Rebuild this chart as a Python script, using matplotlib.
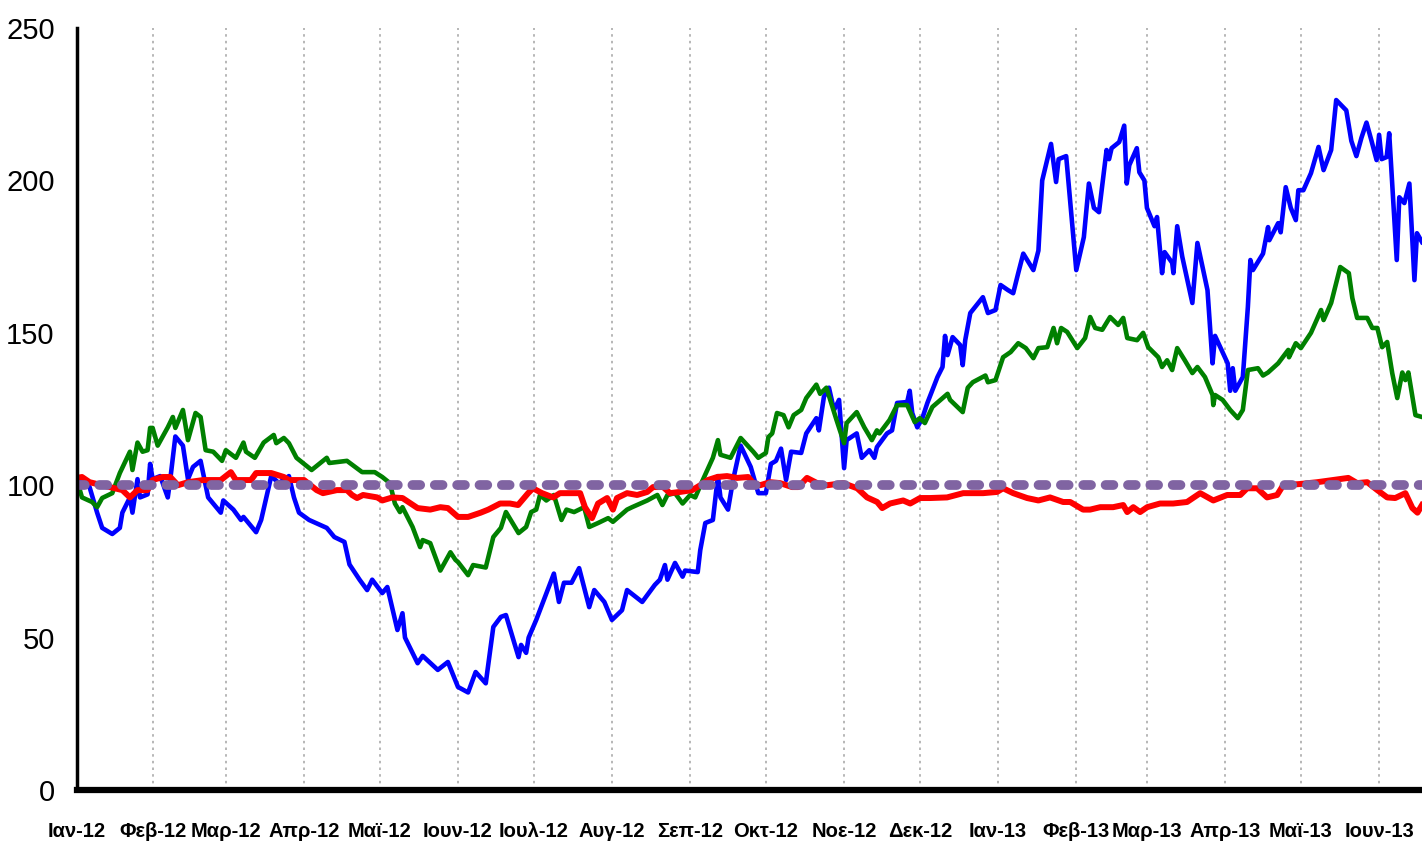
import matplotlib
matplotlib.use('Agg')
from matplotlib import pyplot as plt
import pandas as pd

plt.rcParams['font.family'] = ['Liberation Sans', 'DejaVu Sans']

# x values are days counted from the first trading day (2 Jan 2012)
start = pd.Timestamp('2012-01-02')
end_day = 533

blue_day = [0, 5, 8, 10, 14, 17, 18, 21, 22, 24, 25, 28, 29, 30, 33, 36, 37, 39, 42, 44, 46, 49, 50, 52,
            57, 58, 62, 65, 66, 71, 73, 77, 80, 84, 86, 88, 92, 99, 102, 106, 108, 112, 115, 117, 121, 123,
            127, 129, 130, 133, 135, 137, 143, 147, 151, 155, 158, 162, 165, 168, 170, 175, 176, 178, 179,
            182, 185, 189, 191, 193, 196, 199, 203, 205, 209, 212, 216, 218, 224, 229, 231, 233, 234, 237,
            240, 241, 246, 247, 249, 252, 254, 255, 258, 260, 263, 267, 270, 273, 275, 277, 279, 281, 283,
            287, 289, 293, 294, 296, 298, 300, 302, 304, 305, 309, 311, 314, 316, 317, 321, 323, 325, 329,
            330, 331, 333, 335, 337, 341, 343, 344, 345, 347, 350, 351, 352, 354, 359, 361, 364, 366, 369,
            371, 373, 375, 379, 381, 382.5, 386, 388, 389, 392, 396, 399, 401, 403, 405, 408, 409, 410, 413,
            415, 416, 417, 420, 421, 423, 424, 427, 428, 430, 431, 434, 434.5, 436, 438, 442, 444, 448, 450,
            451, 456, 457, 458, 459, 462, 464, 465, 466, 470, 472, 472.5, 476, 477, 479, 481, 483, 484, 486,
            489, 492, 494, 497, 499, 503, 505, 507, 509, 511, 513, 515, 516, 517, 519, 520, 523, 524, 526,
            528, 530, 531, 533]
blue_val = [101.7, 99.4, 91, 86, 84, 86, 91, 96, 91, 102, 96, 97, 107, 102, 103, 96, 102, 116, 113, 102,
            106, 108, 104, 96, 91, 95, 92, 88.6, 89.6, 84.6, 88.6, 103, 100.7, 103, 96, 91, 88.6, 86, 83,
            81.4, 74, 69, 65.6, 69, 64.6, 66.6, 52.5, 58, 50, 45, 41.6, 44, 39.4, 42, 33.8, 32, 38.7, 35,
            53.5, 56.8, 57.4, 43.6, 47.6, 45, 50, 55.8, 62.3, 71, 61.7, 68, 68, 72.8, 60, 65.6, 61.7, 55.8,
            59, 65.6, 61.7, 67.3, 69, 73.8, 69, 74.5, 70, 72, 71.5, 78.7, 87.6, 88.6, 103, 96, 92, 101.7,
            113, 106, 97.4, 97.4, 107, 108, 112, 101.7, 111, 110.6, 117, 122, 118, 129, 132, 124.7, 128,
            105.6, 114.8, 117, 109, 111.5, 109, 112.5, 117, 118, 127, 127.3, 131, 123.7, 119, 122, 127,
            135.5, 138.8, 149, 142.7, 148.6, 146, 139.4, 147.6, 156.5, 161.7, 156.5, 157.5, 165.7, 164,
            163, 169.6, 176, 170.6, 177, 200, 212, 199.5, 207, 208, 170.6, 181.4, 199, 191, 189.6, 210,
            207, 210.6, 212.6, 218, 199, 205, 210.6, 202.7, 200, 191, 185, 188, 169.6, 176.5, 173, 169.6,
            185, 175, 159.8, 179.5, 164, 140, 149, 140, 131, 138.4, 131, 135.5, 158.5, 173.9, 170.6, 176,
            184.7, 180.4, 186, 183, 197.8, 191, 187, 196.8, 196.8, 202.4, 211, 203.4, 210, 226.4, 223, 213,
            208, 214, 219, 213, 206.7, 215, 207, 207.7, 215.5, 173.9, 194.5, 192.6, 199, 167.3, 182.7,
            179.8]

green_day = [0, 2, 6, 8, 10, 14, 17, 21, 22, 24, 26, 28, 29, 30, 32, 36, 38, 39, 42, 44, 47, 49, 51, 54,
             57.5, 59, 63, 66, 67, 70.5, 74, 78, 79, 82, 84, 87, 93, 99, 100, 107, 113, 118, 121, 124, 126,
             128, 129, 133, 136, 137, 140, 144, 148, 150, 151, 155, 157, 162, 165, 168, 170, 175, 178, 180,
             182, 183.5, 186, 189, 192, 194, 197, 201, 203, 206.5, 210.5, 212.4, 218, 220, 226, 230, 232,
             234, 237, 240, 243, 245, 248, 252, 254, 255, 259, 263, 268, 270, 273, 274, 275.5, 277.4, 280,
             282, 284, 287, 289, 293, 294.5, 297, 301, 304, 305, 309, 312, 315, 317, 318, 322, 325, 329,
             332, 334, 336, 339, 345, 346, 351, 353, 355, 360, 361, 364, 367, 370, 373, 376, 379, 381,
             384.5, 387, 388.4, 390, 392.4, 396.4, 399.5, 401.5, 403.5, 406.3, 409.4, 412.6, 414.6, 416.2,
             420.1, 422.5, 424.5, 428.5, 430, 432, 434, 436, 439, 442, 444, 447, 450, 450.3, 451, 454, 457,
             460, 462, 464, 468, 470, 472, 476, 480, 480.3, 483, 485, 489, 493, 494, 497, 500.6, 504, 505.4,
             507.3, 511.3, 513.3, 515.3, 517.2, 519.2, 521.2, 523.2, 525.2, 526.4, 527.6, 530.4, 533]
green_val = [101.7, 96, 94.5, 92.8, 95.8, 97.4, 104, 111, 105, 114, 111, 111.5, 118.8, 118.8, 113, 119,
             122.4, 118.8, 124.7, 114.8, 123.7, 122.4, 111.5, 111, 108, 111.5, 109, 114, 111, 109, 114,
             116.5, 113.8, 115.5, 113.8, 109, 105, 109, 107.3, 108, 104.3, 104.3, 102.7, 100.7, 94, 91.2,
             92.8, 86.3, 79.7, 82, 81, 72, 78, 75.5, 74.8, 70.5, 73.8, 73, 83, 86, 91.2, 84.3, 86.3, 91.2,
             92, 96.8, 95, 96.8, 88.6, 92, 91.2, 92.8, 86.3, 87.6, 89.2, 88, 92, 92.8, 95, 96.8, 93.5, 96.8,
             97.4, 94, 96.8, 96, 101.7, 109, 114.8, 110, 109, 115.5, 111, 109, 110.6, 115.8, 117, 123.7,
             123, 119, 123, 124.7, 128.6, 133, 130, 132, 121.4, 113.8, 120.4, 124, 119, 114.8, 118, 117,
             121.4, 126.3, 126.3, 120.7, 122, 120.4, 125.7, 130, 128, 124, 132, 133.8, 136, 133.8, 134.5,
             142, 143.7, 146.6, 145, 141.7, 145, 145.3, 151.6, 146.6, 151.6, 150.3, 145, 148.3, 155.2,
             151.6, 151, 155.2, 152.6, 154.9, 148.3, 147.6, 150, 145.3, 142, 138.8, 141, 137.8, 145, 141,
             136.8, 138.8, 135.5, 129.6, 126.3, 129.6, 128, 124.7, 122, 124.7, 137.8, 138.4, 136, 137, 140,
             144.4, 142, 146.6, 145, 150, 157.5, 154.2, 159.8, 171.6, 169.6, 161.4, 154.9, 154.9, 151.6,
             151.6, 145.3, 147, 136.8, 128.6, 137, 134.5, 137, 123, 122.4]

red_day = [0, 2, 5, 13, 18, 21, 24, 28, 30, 34, 37, 40, 44, 50, 57, 61, 63, 69, 71, 77, 82, 84, 90, 95,
           97.5, 103, 107, 109, 111, 113.4, 119, 121, 125, 129, 135, 140, 144, 147, 151, 155, 160, 163,
           167.7, 171.6, 174.8, 178.8, 180.7, 184.3, 188.7, 191.4, 196.6, 199.4, 201.3, 204.1, 206.5,
           210.1, 212.4, 214, 218, 222, 226, 228.3, 232.3, 235, 239, 243.8, 247, 250, 253.7, 257.6, 261.6,
           266, 268, 270.7, 274.7, 278.6, 283.4, 285.8, 289.3, 293.3, 297.3, 303.6, 309.2, 313.1, 317.1,
           319.1, 322.2, 327.4, 330.2, 334.1, 338.1, 344.8, 351.2, 359.1, 364.6, 367, 371, 376.5, 381,
           385.6, 390.8, 393.6, 398.7, 401.5, 405.5, 410.6, 414.6, 416.2, 418.6, 421.3, 424.1, 429.2,
           434.4, 439.9, 445.1, 450.3, 455.8, 461, 463.7, 467.7, 471.6, 475.6, 478, 484.7, 491.5, 497.8,
           503.8, 507.3, 511.3, 515.3, 519.2, 522.4, 526.4, 529.2, 531.2, 533]
red_val = [102.4, 102.7, 101, 99.4, 98.4, 96, 98.4, 98.4, 101.7, 102.7, 102.7, 100, 101, 101.7, 101.7,
           104.3, 101.7, 101.7, 104, 104, 102.7, 101.7, 101.7, 98.4, 97.4, 98.4, 98.4, 96.8, 95.8, 96.8,
           96, 95, 96, 95.8, 92.5, 92, 92.8, 92.5, 89.6, 89.6, 91, 92, 94, 94, 93.5, 97.4, 99, 97.4, 96,
           97.4, 97.4, 97.4, 92.8, 89.2, 94, 95.8, 92, 95.8, 97.4, 96.8, 97.8, 99.4, 99.4, 97.4, 97.8,
           98.4, 100, 101.7, 102.7, 103, 102.4, 102.7, 100.7, 100, 101, 100.7, 99.4, 99.4, 102.4, 100.7,
           100, 100.7, 99, 96, 94.5, 92.5, 94, 95, 94, 95.8, 95.8, 96, 97.4, 97.4, 97.8, 99, 97.4, 95.8,
           95, 96, 94.5, 94.5, 92, 92, 92.8, 92.8, 93.5, 91.2, 92.8, 91.2, 92.8, 94, 94, 94.5, 97.4, 95,
           96.8, 96.8, 99, 99, 96, 96.8, 100, 100.4, 101, 101.7, 102.4, 100.7, 101, 98.4, 96, 95.8, 97.4,
           92.5, 91, 93.5]

base_day = [0, end_day]
base_val = [100, 100]

months = ['Ιαν', 'Φεβ', 'Μαρ', 'Απρ', 'Μαϊ', 'Ιουν', 'Ιουλ', 'Αυγ', 'Σεπ', 'Οκτ', 'Νοε', 'Δεκ']


def to_dates(days):
    return start + pd.to_timedelta(days, unit='D')


fig = plt.figure(figsize=(14.22, 8.52), dpi=100)
ax = fig.add_axes([0.0541, 0.0728, 0.9459, 0.8942])

ax.plot(to_dates(blue_day), blue_val, color='#0000FF', lw=3.3, solid_joinstyle='round')
ax.plot(to_dates(green_day), green_val, color='#008000', lw=3.3, solid_joinstyle='round')
ax.plot(to_dates(red_day), red_val, color='#FF0000', lw=4.3, solid_joinstyle='round')
ax.plot(to_dates(base_day), base_val, color='#8064A2', lw=7, dashes=(0.8, 1.5),
        dash_capstyle='round')

ax.set_ylim(0, 250)
ax.set_yticks([0, 50, 100, 150, 200, 250])
ax.set_xlim(to_dates([0, end_day]))

ticks = [start] + list(pd.date_range('2012-02-01', '2013-06-01', freq='MS'))
labels = [months[t.month - 1] + '-' + t.strftime('%y') for t in ticks]
ax.set_xticks(ticks)
ax.set_xticklabels(labels, fontsize=14.5, fontweight='bold')
ax.tick_params(axis='x', length=0, pad=23)
ax.tick_params(axis='y', length=0, pad=16, labelsize=21)

ax.xaxis.grid(True, color='#AAAAAA', linestyle=(0, (1.5, 2.5)), lw=1.2)
ax.set_axisbelow(True)

for s in ['top', 'right']:
    ax.spines[s].set_visible(False)
ax.spines['left'].set_linewidth(2.5)
ax.spines['bottom'].set_linewidth(4.5)

fig.savefig('out.png', dpi=100)
